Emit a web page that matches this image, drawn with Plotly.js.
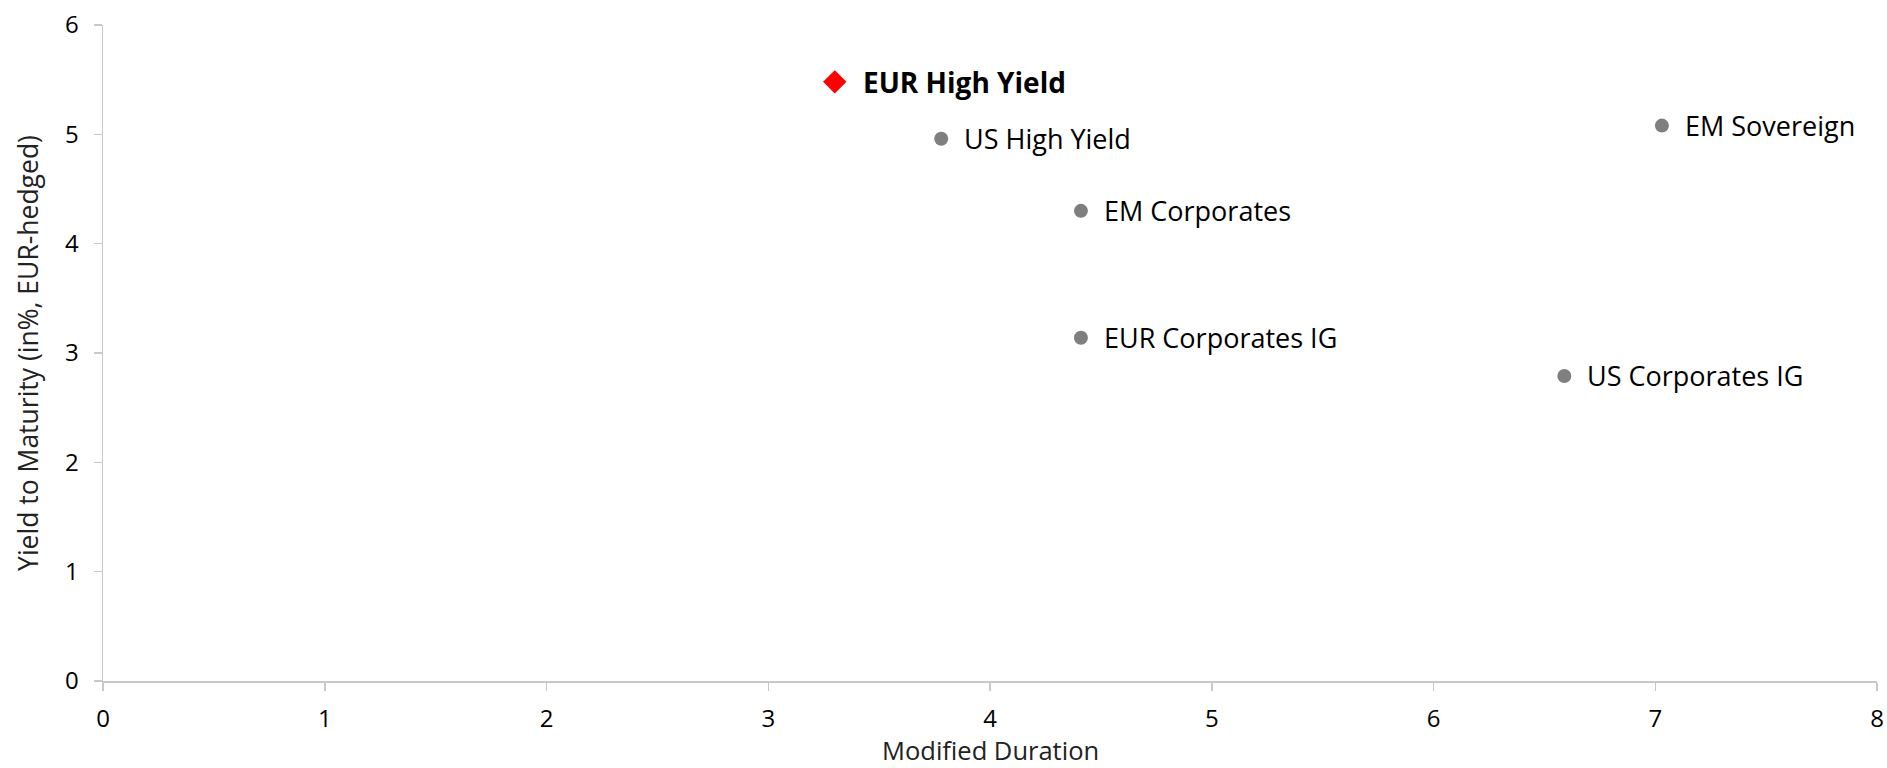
<!DOCTYPE html>
<html>
<head>
<meta charset="utf-8">
<script src="https://cdn.plot.ly/plotly-3.0.1.min.js"></script>
<style>html,body{margin:0;padding:0;background:#fff;}#chart{width:1887px;height:768px;}</style>
</head>
<body>
<div id="chart"></div>
<script>
// Data
const names = ["EUR High Yield", "US High Yield", "EM Corporates", "EUR Corporates IG", "US Corporates IG", "EM Sovereign"];
const duration = [3.30, 3.78, 4.41, 4.41, 6.59, 7.03];
const ytm = [5.48, 4.96, 4.30, 3.14, 2.79, 5.08];
const highlight = [true, false, false, false, false, false];
const xTicks = [0, 1, 2, 3, 4, 5, 6, 7, 8];
const yTicks = [0, 1, 2, 3, 4, 5, 6];
const xTitle = 'Modified Duration';
const yTitle = 'Yield to Maturity (in%, EUR-hedged)';

const FONT = "Open Sans, sans-serif";
const hiX = [], hiY = [], loX = [], loY = [];
names.forEach((n, i) => {
  if (highlight[i]) { hiX.push(duration[i]); hiY.push(ytm[i]); }
  else { loX.push(duration[i]); loY.push(ytm[i]); }
});

const traces = [
  {x: loX, y: loY, type: 'scatter', mode: 'markers', marker: {symbol: 'circle', size: 14, color: '#7f7f7f'}, hoverinfo: 'skip', cliponaxis: false},
  {x: hiX, y: hiY, type: 'scatter', mode: 'markers', marker: {symbol: 'diamond', size: 18, color: '#ff0000'}, hoverinfo: 'skip', cliponaxis: false}
];

const annotations = names.map((n, i) => ({
  x: duration[i], y: ytm[i], xref: 'x', yref: 'y',
  text: highlight[i] ? '<b>' + n + '</b>' : n,
  showarrow: false, xanchor: 'left', yanchor: 'middle',
  xshift: highlight[i] ? 26 : 21,
  font: {family: FONT, size: highlight[i] ? 28 : 27, color: '#000'}
}));
// x-axis title placed below the tick labels, at the bottom edge
annotations.push({
  x: 0.5, y: 0, xref: 'paper', yref: 'paper', text: xTitle,
  showarrow: false, xanchor: 'center', yanchor: 'bottom', yshift: -87, borderpad: 0,
  font: {family: FONT, size: 25.5, color: '#222'}
});

const axisCommon = {
  showline: true, linecolor: '#c8c8c8', linewidth: 1.5,
  showgrid: false, zeroline: false,
  ticks: 'outside', ticklen: 8, tickwidth: 1.5, tickcolor: '#c8c8c8',
  tickfont: {family: FONT, size: 24, color: '#000'},
  tickmode: 'array'
};

const layout = {
  width: 1887, height: 768,
  margin: {l: 103, r: 10, t: 25, b: 87},
  paper_bgcolor: '#fff', plot_bgcolor: '#fff',
  showlegend: false,
  xaxis: Object.assign({}, axisCommon, {
    range: [0, 8], tickvals: xTicks, ticktext: xTicks.map(String),
    ticklabelstandoff: 8
  }),
  yaxis: Object.assign({}, axisCommon, {
    range: [0, 6], tickvals: yTicks, ticktext: yTicks.map(String),
    ticklabelstandoff: 10,
    title: {text: yTitle, font: {family: FONT, size: 26.5, color: '#222'}, standoff: 18}
  }),
  annotations: annotations
};

Plotly.newPlot('chart', traces, layout, {displayModeBar: false, staticPlot: true});
</script>
</body>
</html>
